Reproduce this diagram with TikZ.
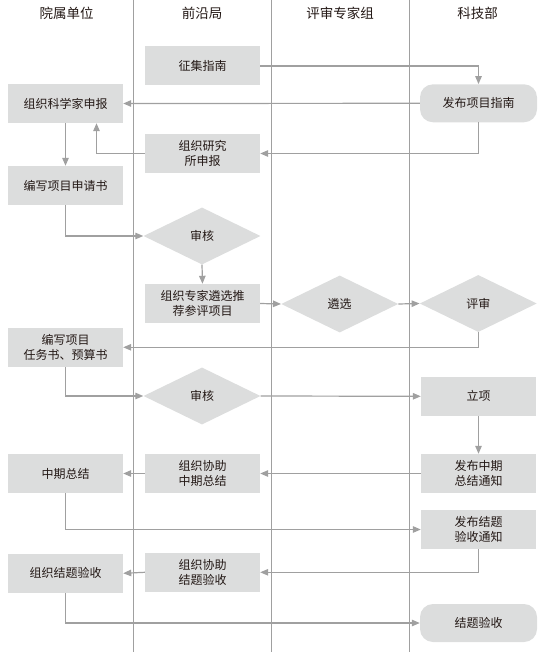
\documentclass[tikz,border=0pt]{standalone}
\usepackage{fontspec}
\setmainfont{Noto Sans CJK SC}
\usepackage{tikz}
\usetikzlibrary{arrows.meta}
\usetikzlibrary{shapes.geometric}
\definecolor{boxgray}{HTML}{DCDDDD}
\definecolor{linegray}{HTML}{A0A0A0}
\definecolor{inkgray}{HTML}{231815}

\begin{document}
\begin{tikzpicture}[x=1pt,y=-1pt,
    every node/.style={text=inkgray,font=\fontsize{12}{15.5}\selectfont,align=center,inner sep=0pt},
    box/.style={fill=boxgray,minimum width=115pt,minimum height=39pt},
    rbox/.style={fill=boxgray,rounded corners=13pt,minimum width=117pt,minimum height=38pt},
    chk/.style={diamond,fill=boxgray,minimum width=117pt,minimum height=57pt},
    flow/.style={draw=linegray,line width=1.2pt,-{Triangle[length=8pt,width=6.5pt]}}]
    \useasboundingbox (0,0) rectangle (545,652);

    \foreach \x in {133.5,271,409} {
        \draw[linegray,line width=0.9pt] (\x,0) -- (\x,652);
    }

    \foreach \x/\t/\n in {66.5/院属单位/h1, 202/前沿局/h2, 340/评审专家组/h3, 477.5/科技部/h4} {
        \node[font=\fontsize{13.5}{16}\selectfont] (\n) at (\x,13) {\t};
    }

    \node[box] (zhengji) at (202.5,66) {征集指南};
    \node[box] (kxjsb) at (65.5,103.5) {组织科学家申报};
    \node[rbox] (fbzn) at (478.5,103.3) {发布项目指南};
    \node[box] (yjssb) at (202.5,153.5) {组织研究\\所申报};
    \node[box] (sqs) at (65.5,185.5) {编写项目申请书};
    \node[chk] (sh1) at (202,236) {审核};
    \node[box] (tuijian) at (202.5,303.5) {组织专家遴选推\\荐参评项目};
    \node[chk] (lx) at (339.7,304) {遴选};
    \node[chk] (ps) at (478.3,303.5) {评审};
    \node[box] (rws) at (65.5,347.3) {编写项目\\任务书、预算书};
    \node[chk] (sh2) at (202,396) {审核};
    \node[box] (lixiang) at (478.5,396.3) {立项};
    \node[box] (fbzq) at (478.5,473.5) {发布中期\\总结通知};
    \node[box] (xzzq) at (202.5,473.5) {组织协助\\中期总结};
    \node[box] (zqzj) at (65.5,473.5) {中期总结};
    \node[box] (fbjt) at (478.5,529.5) {发布结题\\验收通知};
    \node[box] (xzjt) at (202.5,572.3) {组织协助\\结题验收};
    \node[box] (zzjt) at (65.5,573.3) {组织结题验收};
    \node[rbox] (jtys) at (478.5,623) {结题验收};

    \draw[flow] (zhengji.east) -| (fbzn.north);
    \draw[flow] (fbzn.west) -- (kxjsb.east);
    \draw[flow] (fbzn.south) |- (yjssb.east);
    \draw[flow] (yjssb.west) -| ([xshift=31pt]kxjsb.south);
    \draw[flow] (kxjsb.south) -- (sqs.north);
    \draw[flow] (sqs.south) |- (sh1.west);
    \draw[flow] (sh1.south) -- (tuijian.north);
    \draw[flow] (tuijian.east) -- (lx.west);
    \draw[flow] (lx.east) -- (ps.west);
    \draw[flow] (ps.south) |- (rws.east);
    \draw[flow] (rws.south) |- (sh2.west);
    \draw[flow] (sh2.east) -- (lixiang.west);
    \draw[flow] (lixiang.south) -- (fbzq.north);
    \draw[flow] (fbzq.west) -- (xzzq.east);
    \draw[flow] (xzzq.west) -- (zqzj.east);
    \draw[flow] (zqzj.south) |- (fbjt.west);
    \draw[flow] (fbjt.south) |- (xzjt.east);
    \draw[flow] (xzjt.west) -- (zzjt.east);
    \draw[flow] (zzjt.south) |- (jtys.west);
\end{tikzpicture}
\end{document}
